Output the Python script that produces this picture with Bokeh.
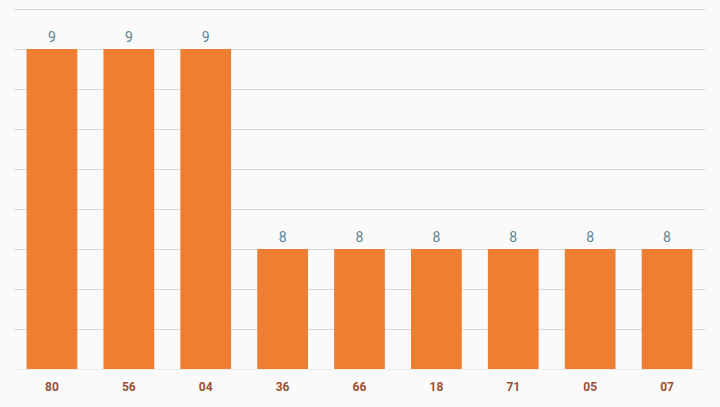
from bokeh.plotting import figure
from bokeh.models import ColumnDataSource, FixedTicker, LabelSet
from bokeh.core.properties import value
from bokeh.embed import file_html
from bokeh.resources import INLINE

categories = ["80", "56", "04", "36", "66", "18", "71", "05", "07"]
values = [9, 9, 9, 8, 8, 8, 8, 8, 8]
y_min = 7.4
y_max = 9.2
grid_ticks = [7.4, 7.6, 7.8, 8.0, 8.2, 8.4, 8.6, 8.8, 9.0, 9.2]

src = ColumnDataSource(dict(cat=categories, val=values, lab=[str(v) for v in values]))

pad = 0.0025
p = figure(x_range=categories, y_range=(y_min - pad, y_max + pad), width=720, height=407,
           output_backend="svg", toolbar_location=None,
           min_border_left=13, min_border_right=15, min_border_top=8, min_border_bottom=38)
p.background_fill_color = "#fafafa"
p.border_fill_color = "#fafafa"
p.outline_line_color = None

p.vbar(x="cat", top="val", bottom=y_min, width=0.66, source=src,
       fill_color="#ee7f32", line_color=None)

labels = LabelSet(x="cat", y="val", text="lab", source=src, text_align="center",
                  text_baseline="bottom", y_offset=7, text_font=value("Roboto"),
                  text_font_size="14px", text_color="#5a8494")
p.add_layout(labels)

p.yaxis.visible = False
p.yaxis.ticker = FixedTicker(ticks=grid_ticks)
p.ygrid.grid_line_color = "#d9d9d9"
p.ygrid.grid_line_width = 1
p.xgrid.grid_line_color = None

p.xaxis.axis_line_color = None
p.xaxis.major_tick_line_color = None
p.xaxis.minor_tick_line_color = None
p.xaxis.major_label_text_font = "Roboto"
p.xaxis.major_label_text_font_style = "bold"
p.xaxis.major_label_text_font_size = "12px"
p.xaxis.major_label_text_color = "#9c5035"
p.xaxis.major_label_standoff = 6

html = file_html(p, INLINE)
html = html.replace("</head>", "<style>body{background:#fafafa;}</style></head>", 1)
open("out.html", "w").write(html)
